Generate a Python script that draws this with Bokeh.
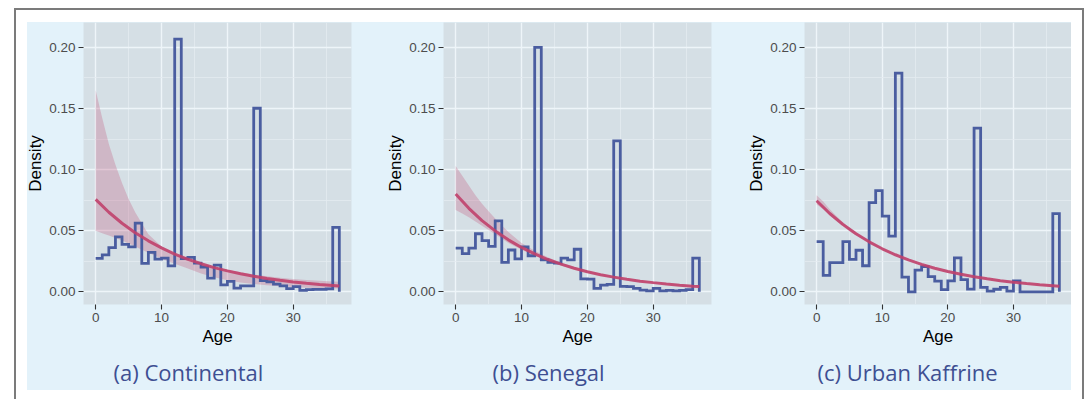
from bokeh.plotting import figure
from bokeh.layouts import row, column
from bokeh.models import FixedTicker, PrintfTickFormatter, Range1d, Title
from bokeh.embed import file_html
from bokeh.resources import INLINE

# ---------------- data ----------------
CAPTIONS = ["(a) Continental", "(b) Senegal", "(c) Urban Kaffrine"]
AGE_EDGES = list(range(38))          # histogram bin edges 0..37 (bins of 1 year)

DENS_CONT = [0.0273, 0.0302, 0.0362, 0.0450, 0.0388, 0.0368, 0.0562, 0.0232, 0.0322, 0.0268,
             0.0275, 0.0212, 0.2068, 0.0272, 0.0282, 0.0235, 0.0202, 0.0112, 0.0218, 0.0057,
             0.0085, 0.0030, 0.0048, 0.0048, 0.1502, 0.0092, 0.0082, 0.0062, 0.0048, 0.0026,
             0.0042, 0.0012, 0.0018, 0.0020, 0.0020, 0.0024, 0.0527]
DENS_SEN = [0.0357, 0.0312, 0.0357, 0.0475, 0.0418, 0.0372, 0.0580, 0.0240, 0.0342, 0.0270,
            0.0368, 0.0295, 0.2000, 0.0262, 0.0240, 0.0235, 0.0275, 0.0262, 0.0348, 0.0105,
            0.0103, 0.0028, 0.0055, 0.0060, 0.1235, 0.0045, 0.0042, 0.0028, 0.0014, 0.0008,
            0.0028, 0.0008, 0.0012, 0.0008, 0.0012, 0.0018, 0.0275]
DENS_KAF = [0.0410, 0.0134, 0.0238, 0.0238, 0.0410, 0.0265, 0.0340, 0.0213, 0.0730, 0.0828,
            0.0620, 0.0455, 0.1790, 0.0120, 0.0000, 0.0177, 0.0206, 0.0124, 0.0087, 0.0018,
            0.0090, 0.0278, 0.0100, 0.0022, 0.1340, 0.0036, 0.0006, 0.0021, 0.0036, 0.0006,
            0.0090, 0.0000, 0.0000, 0.0000, 0.0000, 0.0000, 0.0640]

CURVE_AGE = [0, 2, 4, 6, 8, 10, 12, 14, 16, 18, 20, 22, 24, 26, 28, 30, 32, 34, 36, 37]
CURVE_CONT = [0.0756, 0.0651, 0.0561, 0.0484, 0.0417, 0.0359, 0.0309, 0.0266, 0.0230, 0.0198,
              0.0171, 0.0147, 0.0127, 0.0109, 0.0094, 0.0081, 0.0070, 0.0060, 0.0052, 0.0048]
CURVE_SEN = [0.0800, 0.0683, 0.0583, 0.0498, 0.0425, 0.0363, 0.0310, 0.0264, 0.0226, 0.0193,
             0.0164, 0.0140, 0.0120, 0.0102, 0.0087, 0.0075, 0.0064, 0.0054, 0.0046, 0.0043]
CURVE_KAF = [0.0745, 0.0641, 0.0552, 0.0475, 0.0409, 0.0352, 0.0303, 0.0261, 0.0224, 0.0193,
             0.0166, 0.0143, 0.0123, 0.0106, 0.0091, 0.0079, 0.0068, 0.0058, 0.0050, 0.0046]

RIB_AGE = [0, 1, 2, 3, 4, 5, 6, 8, 10, 12, 14, 16, 18, 20, 22, 24, 26, 28, 30, 32, 34, 36, 37]
RIB_HI_CONT = [0.165, 0.142, 0.121, 0.104, 0.089, 0.076, 0.065, 0.047, 0.037, 0.031, 0.027, 0.023,
               0.020, 0.018, 0.016, 0.0142, 0.0128, 0.0115, 0.0104, 0.0096, 0.0090, 0.0085, 0.0082]
RIB_LO_CONT = [0.050, 0.048, 0.046, 0.044, 0.042, 0.0395, 0.037, 0.032, 0.027, 0.023, 0.019, 0.015,
               0.012, 0.0095, 0.0077, 0.0063, 0.0053, 0.0045, 0.0039, 0.0034, 0.0031, 0.0028, 0.0027]
RIB_HI_SEN = [0.103, 0.095, 0.087, 0.079, 0.072, 0.066, 0.060, 0.049, 0.040, 0.0335, 0.0282, 0.0238,
              0.0202, 0.0171, 0.0146, 0.0125, 0.0107, 0.0092, 0.0079, 0.0068, 0.0058, 0.0050, 0.0047]
RIB_LO_SEN = [0.067, 0.064, 0.061, 0.0575, 0.054, 0.0505, 0.047, 0.040, 0.0345, 0.0295, 0.0252, 0.0216,
              0.0185, 0.0158, 0.0135, 0.0116, 0.0099, 0.0084, 0.0072, 0.0061, 0.0052, 0.0044, 0.0041]
RIB_HI_KAF = [0.079, 0.074, 0.0675, 0.062, 0.057, 0.0525, 0.0485, 0.0415, 0.0356, 0.0306, 0.0263, 0.0226,
              0.0195, 0.0168, 0.0145, 0.0125, 0.0108, 0.0093, 0.0081, 0.0070, 0.0060, 0.0052, 0.0048]
RIB_LO_KAF = [0.0715, 0.0675, 0.0625, 0.058, 0.0537, 0.0496, 0.0463, 0.0403, 0.0348, 0.0300, 0.0259, 0.0222,
              0.0191, 0.0164, 0.0141, 0.0121, 0.0104, 0.0089, 0.0077, 0.0066, 0.0056, 0.0048, 0.0044]

X_TICKS = [0, 10, 20, 30]
X_MINOR = [5, 15, 25, 35]
Y_TICKS = [0.0, 0.05, 0.10, 0.15, 0.20]
Y_MINOR = [0.025, 0.075, 0.125, 0.175]

# ---------------- style ----------------
PAGE_BG = "#E3F2FA"
PANEL_BG = "#D5DFE5"
GRID_MAJOR = "#EEF5F9"
GRID_MINOR = "#E3EBF0"
BLUE = "#4A5DA0"
RED = "#C0416C"
CAPTION_COLOR = "#3E4F92"
TICK_FONT = "Liberation Sans"
LEFT_BORDER = 66


def make_panel(dens, curve, rib_lo, rib_hi, caption, frame_w, right_border, cap_offset):
    p = figure(frame_width=frame_w, frame_height=282,
               min_border_left=LEFT_BORDER, min_border_right=right_border,
               min_border_top=0, min_border_bottom=86,
               x_range=Range1d(-1.85, 38.85), y_range=Range1d(-0.0104, 0.2204),
               output_backend="svg", toolbar_location=None,
               background_fill_color=PANEL_BG,
               border_fill_color=None, border_fill_alpha=0,
               outline_line_color=None)

    p.xaxis.ticker = FixedTicker(ticks=X_TICKS, minor_ticks=X_MINOR)
    p.yaxis.ticker = FixedTicker(ticks=Y_TICKS, minor_ticks=Y_MINOR)
    p.yaxis.formatter = PrintfTickFormatter(format="%.2f")

    for ax in (p.xaxis, p.yaxis):
        ax.axis_line_color = None
        ax.major_tick_in = 0
        ax.major_tick_out = 5
        ax.major_tick_line_color = "#333333"
        ax.major_tick_line_width = 1.1
        ax.minor_tick_line_color = None
        ax.major_label_text_font = TICK_FONT
        ax.major_label_text_font_size = "13.5px"
        ax.major_label_text_color = "#4D4D4D"
        ax.axis_label_text_font = TICK_FONT
        ax.axis_label_text_font_size = "17px"
        ax.axis_label_text_font_style = "normal"
        ax.axis_label_text_color = "#000000"
    p.xaxis.axis_label = "Age"
    p.yaxis.axis_label = "Density"
    p.xaxis.major_label_standoff = 3
    p.yaxis.major_label_standoff = 3
    p.xaxis.axis_label_standoff = 2
    p.yaxis.axis_label_standoff = 1

    p.grid.grid_line_color = GRID_MAJOR
    p.grid.grid_line_width = 1.4
    p.grid.minor_grid_line_color = GRID_MINOR
    p.grid.minor_grid_line_width = 0.8

    p.varea(x=RIB_AGE, y1=rib_lo, y2=rib_hi, fill_color=RED, fill_alpha=0.25)
    p.step(x=AGE_EDGES, y=dens + [0.0], mode="after",
           line_color=BLUE, line_width=2.8, line_join="miter")
    p.line(x=CURVE_AGE, y=curve, line_color=RED, line_width=3, line_alpha=0.9)

    p.add_layout(Title(text=caption, align="left", offset=cap_offset,
                       vertical_align="top", standoff=17,
                       text_font="Open Sans", text_font_size="22px",
                       text_font_style="normal", text_color=CAPTION_COLOR), "below")
    return p


p1 = make_panel(DENS_CONT, CURVE_CONT, RIB_LO_CONT, RIB_HI_CONT, CAPTIONS[0], 268, 26, 30)
p2 = make_panel(DENS_SEN, CURVE_SEN, RIB_LO_SEN, RIB_HI_SEN, CAPTIONS[1], 268, 27, 49)
p3 = make_panel(DENS_KAF, CURVE_KAF, RIB_LO_KAF, RIB_HI_KAF, CAPTIONS[2], 267, 0, 13)

inner = row(p1, p2, p3, styles={
    "background": ("linear-gradient(to bottom, rgba(255,255,255,0) 368px, #ffffff 368px), "
                   "linear-gradient(to right, #ffffff 10px, %s 10px)" % PAGE_BG),
})
outer = column(inner, styles={
    "border-top": "2px solid #7b7b7b",
    "border-left": "2px solid #7b7b7b",
    "border-right": "2px solid #7b7b7b",
    "padding": "12px 11px 2px 1px",
    "margin-left": "14px",
    "margin-top": "8px",
    "background-color": "#ffffff",
})

open("out.html", "w").write(file_html(outer, INLINE))
